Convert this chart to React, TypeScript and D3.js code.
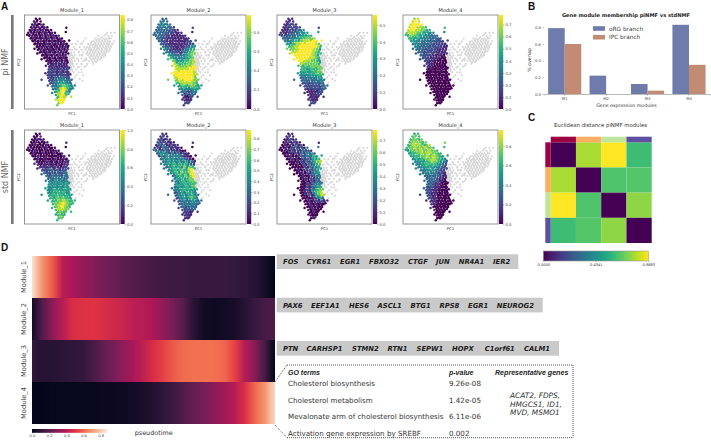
import * as d3 from 'd3';
import React, { useRef, useEffect } from 'react';

// PCA embedding, in percent of the panel frame. One row per PC2 level.
const branchPC2 = [4, 7, 10, 13, 16, 19, 22, 25, 28, 31, 34, 37, 40, 43, 46, 49, 52, 55, 58, 61, 64, 67, 70, 73, 76, 79, 82, 85, 88, 91, 94];
const branchPC1 = [
  [12, 16],
  [10, 13, 17],
  [8, 11, 14, 17, 20],
  [7, 10, 12.5, 15, 18, 21, 24],
  [5.5, 8.5, 11, 14, 17, 19.5, 22.5, 25, 28],
  [4, 7, 9.5, 12.5, 15, 18, 21, 23.5, 26.5, 29, 32],
  [5, 8, 11, 13.5, 16.5, 19, 22, 25, 27.5, 30.5, 33, 36],
  [6.5, 9, 12, 15, 17.5, 20.5, 23, 26, 29, 31.5, 34.5, 37, 39.5],
  [9, 11.5, 14, 17, 20, 22.5, 25.5, 28, 31, 33.5, 36, 39, 42],
  [10.5, 13, 16, 19, 21.5, 24.5, 27, 30, 32.5, 35.5, 38, 41, 44],
  [13, 15.5, 18, 21, 23.5, 26.5, 29, 32, 34.5, 37.5, 40, 43, 45.5],
  [14, 17, 20, 22.5, 25.5, 28, 31, 33.5, 36.5, 39, 42, 45],
  [16, 19, 21.5, 24.5, 27, 30, 32.5, 35.5, 38, 41, 43.5],
  [18.5, 21, 23.5, 26.5, 29, 32, 34.5, 37.5, 40, 43],
  [21, 24, 26.5, 29.5, 32, 35, 37.5, 40.5, 43],
  [23, 26, 28.5, 31.5, 34, 37, 39.5, 42.5, 45],
  [25, 28, 30.5, 33, 36, 38.5, 41.5, 44],
  [26, 28.5, 31.5, 34, 37, 39.5, 42.5, 45],
  [25.5, 28, 31, 33.5, 36.5, 39, 42, 44.5],
  [25, 27.5, 30, 33, 35.5, 38.5, 41, 44, 46],
  [24.5, 27, 29.5, 32.5, 35, 38, 40.5, 43.5, 46],
  [25, 28, 30.5, 33.5, 36, 39, 41.5, 44.5, 47],
  [26, 29, 31.5, 34, 37, 39.5, 42.5, 45, 47.5],
  [27, 30, 32.5, 35.5, 38, 41, 43.5, 46, 48.5],
  [29, 31.5, 34, 37, 39.5, 42.5, 45, 47.5, 50],
  [30, 33, 35.5, 38.5, 41, 44, 46.5, 49],
  [32, 34.5, 37, 40, 42.5, 45, 47.5],
  [33, 36, 38.5, 41.5, 44],
  [34.5, 37, 39.5, 42],
  [35.5, 38, 40.5],
  [36, 39],
];
// the cells lying between those rows, and the stragglers off the edge of the branch
const branchExtra = [
  [13.4, 5.6], [11.2, 8.8], [15.3, 9.6], [9.6, 11.4], [13.1, 11.1], [18.7, 12.2], [44, 13.5], [8.1, 14.6], [11.3, 15.2], [16.2, 14.8], [20.4, 14.4], [23.2, 15.6],
  [6.6, 17.3], [10.2, 18.1], [13.3, 17.6], [16.1, 18.3], [19.4, 17.4], [22.3, 18.2], [25.7, 17.8], [28.4, 19.2], [43.5, 18], [5.3, 21.2], [9.2, 20.4], [12.1, 21.3], [15.4, 20.6], [18.2, 21.1], [21.3, 20.3], [24.1, 21.4], [27.3, 20.8], [30.2, 21.6], [33.4, 22.3], [2.8, 21],
  [7.2, 24.1], [10.3, 23.6], [13.2, 24.2], [16.4, 23.4], [19.1, 24.3], [22.3, 23.5], [25.2, 24.1], [28.3, 23.8], [31.4, 24.3], [34.2, 24.6], [37.3, 25.4],
  [8.3, 27.2], [11.2, 26.4], [14.4, 27.3], [17.1, 26.6], [20.3, 27.2], [23.4, 26.3], [26.2, 27.1], [29.3, 26.7], [32.1, 27.3], [35.4, 26.4], [38.2, 27.2], [41.3, 28.2], [47, 27],
  [11.2, 30.2], [14.3, 29.4], [17.2, 30.3], [20.4, 29.6], [23.1, 30.1], [26.3, 30.3], [29.2, 29.4], [32.4, 30.2], [35.1, 29.9], [38.3, 29.6], [41.2, 30.3], [44.3, 30.7],
  [13.3, 33.2], [16.2, 32.4], [19.4, 33.1], [22.1, 32.6], [25.3, 33.3], [28.2, 32.9], [31.3, 32.4], [34.1, 33.2], [37.4, 33.1], [40.2, 32.6], [43.4, 33.3], [46.2, 32.8], [10.5, 36],
  [15.3, 36.2], [18.1, 35.6], [21.4, 36.1], [24.2, 36.3], [27.3, 35.4], [30.1, 36.2], [33.4, 35.9], [36.2, 35.6], [39.3, 36.3], [42.1, 35.8], [45.3, 36.2],
  [17.2, 39.1], [20.3, 38.4], [23.1, 39.2], [26.4, 38.9], [29.2, 38.6], [32.3, 39.3], [35.1, 38.8], [38.4, 38.4], [41.2, 39.1], [44.1, 38.8], [13.5, 41],
  [19.3, 42.2], [22.4, 41.6], [25.1, 42.1], [28.3, 42.3], [31.2, 41.4], [34.4, 42.2], [37.1, 41.8], [40.3, 41.5], [43.2, 42.1], [46, 41],
  [21.2, 45.1], [23.4, 44.4], [26.2, 45.2], [29.3, 44.6], [32.1, 45.3], [35.3, 44.7], [38.2, 45.2], [41.4, 44.5], [44.2, 45.1], [18, 47],
  [24.3, 48.1], [27.1, 47.4], [30.3, 48.3], [33.2, 47.6], [36.4, 48.2], [39.1, 47.7], [42.3, 48.3], [44.4, 47.6],
  [25.2, 51.1], [27.4, 50.4], [30.2, 51.2], [33.3, 50.6], [36.1, 51.3], [39.4, 50.5], [42.2, 51.1], [45.2, 50.4], [22.5, 54],
  [27.3, 54.1], [30.1, 53.4], [33.4, 54.2], [36.2, 53.6], [39.1, 54.1], [41.3, 53.4], [44.1, 54.2], [47, 56],
  [27.2, 57.1], [29.4, 56.4], [32.3, 57.2], [35.1, 56.6], [38.4, 57.3], [41.2, 56.5], [44.3, 57.1], [46.2, 56.9],
  [26.3, 60.1], [29.2, 59.4], [32.1, 60.2], [34.4, 59.6], [37.2, 60.1], [40.3, 59.5], [43.1, 60.3], [45.2, 59.8], [22, 62],
  [25.8, 63.1], [28.3, 62.4], [31.2, 63.2], [34.1, 62.6], [37.3, 63.1], [39.2, 62.4], [42.1, 63.3], [45.3, 62.6], [48, 63],
  [26.2, 66.1], [29.1, 65.4], [32.3, 66.2], [35.1, 65.6], [38.2, 66.1], [41.3, 65.5], [44.2, 66.2], [46.3, 65.8], [18, 69],
  [27.2, 69.1], [30.1, 68.4], [33.2, 69.2], [36.4, 68.6], [38.2, 69.1], [41.1, 68.5], [44.3, 69.3], [46.4, 68.7], [49.5, 69],
  [28.2, 72.1], [31.3, 71.4], [34.1, 72.3], [37.2, 71.6], [40.1, 72.1], [43.2, 71.5], [45.3, 72.2], [48.1, 71.7], [24.5, 75],
  [30.3, 75.1], [33.2, 74.4], [36.1, 75.2], [38.3, 74.6], [41.2, 75.1], [44.1, 74.5], [47.2, 75.2], [49.4, 74.7], [53, 75],
  [32.2, 78.1], [35.1, 77.4], [37.3, 78.2], [40.2, 77.6], [43.1, 78.1], [45.3, 77.5], [48.2, 78.2], [51, 78],
  [33.4, 81.1], [36.2, 80.4], [39.1, 81.2], [42.2, 80.6], [44.3, 81.1], [47.1, 80.6], [29, 83],
  [35.2, 84.1], [37.4, 83.4], [40.2, 84.2], [43.1, 83.6], [46.2, 84.1], [49, 87],
  [35.7, 87.1], [38.3, 86.5], [41.1, 87.2], [43.4, 86.6], [33, 90],
  [37.2, 90.1], [39.4, 89.6], [42.2, 90.2], [37.8, 93], [40.4, 92.6], [34.5, 96],
];

const grayPC2 = [19, 22, 25, 28, 31, 34, 37, 40, 43, 46, 49, 52, 55, 58, 61, 64, 68, 72];
const grayPC1 = [
  [87, 91, 95],
  [78, 84, 88, 92],
  [64, 74, 77, 80, 83, 86, 89, 91],
  [56, 62, 71, 73, 76, 79, 82, 85, 88, 90, 94],
  [50, 54, 59, 67, 70, 73, 75, 78, 81, 84, 87, 89, 92],
  [52, 58, 63, 66, 69, 72, 75, 77, 80, 83, 86, 88, 91],
  [48, 50, 55, 60, 64, 68, 70, 73, 76, 79, 82, 85, 87, 90],
  [47, 49, 52, 57, 62, 66, 69, 72, 75, 78, 81, 84, 86],
  [46, 48, 50, 53, 58, 61, 67, 70, 73, 76, 79, 82, 85],
  [44, 46, 48, 50, 52, 55, 60, 65, 69, 72, 75, 78, 81],
  [44, 46, 48, 50, 53, 57, 62, 68, 71, 74, 77],
  [45, 47, 49, 51, 55, 60, 66, 72],
  [45, 47, 49, 52, 58, 63],
  [46, 48, 50, 54, 60],
  [48, 52, 57],
  [49, 55, 62],
  [51, 58],
  [54],
];
const grayExtra = [
  [85.4, 20.6], [89.2, 23.7], [81.3, 23.4], [75.6, 26.6], [78.4, 26.3], [81.7, 26.8], [84.6, 26.2], [87.3, 26.7], [70.2, 29.4], [74.4, 29.7], [77.6, 29.3], [80.4, 29.8], [83.3, 29.2], [86.5, 29.6], [89.3, 29.8], [92.6, 30.4],
  [68.4, 32.6], [71.6, 32.2], [74.3, 32.7], [76.5, 32.3], [79.6, 32.6], [82.4, 32.2], [85.7, 32.8], [88.4, 32.3], [90.6, 33], [64.5, 35.7], [67.6, 35.3], [70.4, 35.8], [73.6, 35.2], [76.4, 35.7], [78.5, 35.3], [81.6, 35.8], [84.4, 35.4], [86.6, 35.7], [89.5, 35.3],
  [66.3, 38.6], [69.4, 38.3], [71.6, 38.7], [74.5, 38.2], [77.4, 38.6], [80.6, 38.3], [83.3, 38.8], [86.4, 38.4], [88.6, 38.9], [65.4, 41.6], [68.3, 41.3], [70.6, 41.7], [73.4, 41.2], [76.6, 41.6], [79.5, 41.3], [82.6, 41.7], [84.7, 41.4],
  [68.6, 44.6], [71.4, 44.2], [74.5, 44.7], [77.3, 44.4], [80.6, 44.8], [83.4, 44.3], [70.4, 47.5], [73.5, 47.2], [76.6, 47.6], [79.4, 47.4], [72.5, 50.6], [75.4, 50.3],
  [60.5, 30.2], [53.2, 36], [57.3, 39], [60.2, 42.4], [56.4, 47], [63.3, 47.5], [47.6, 44.5], [49.3, 41.5], [47.3, 47.7], [49.4, 47.3], [51.3, 44.6], [46.2, 50.6], [48.4, 50.3], [50.3, 50.7], [46.4, 53.6], [48.2, 53.4], [50.4, 53.7], [47.3, 56.6], [49.2, 56.3], [47.6, 59.6], [50.3, 59.7], [49.2, 62.5], [65, 54], [56, 56], [60, 61], [53, 66], [61, 70], [65, 48],
];

// per point level as a digit 0-9 of the panel's colour range, row by row (a short row string repeats)
const piModule1 = ['00', '000', '01', '01', '01', '01', '01', '01', '01', '01', '01', '01', '01', '01', '01', '01', '1', '1', '12', '12', '12', '222333322', '223344433', '233455543', '334567654', '34689864', '4689964', '58996', '6998', '899', '79'];
const piModule2 = ['33', '333', '34434', '3343332', '333332221', '33333222111', '333222111111', '3322211111111', '3221111111122', '3221111111222', '4322111112345', '432211123456', '43322223567', '5443334567', '654444567', '765556678', '87666778', '88777889', '98888899', '999999998', '899999998', '889999997', '788899987', '667888876', '556667765', '44444565', '3332344', '22223', '1102', '111', '22'];
const piModule3 = ['11', '111', '11221', '1112222', '111222344', '11122334455', '222333445566', '3334445667778', '4445667889999', '5566889999987', '6788999999986', '778899999875', '88999999876', '9999999875', '999998876', '998887765', '87777776', '66667777', '66556667', '555556677', '444455566', '333444455', '333333344', '222233333', '222222233', '11122223', '1111122', '11112', '1111', '111', '22'];
const piModule4 = ['78', '898', '89999', '8998876', '899887755', '78887665544', '677665544333', '6655544433322', '5544433332222', '4444333322221', '4333332222211', '333322221111', '33222221111', '3222211110', '222111100', '221110000', '21100000', '11000000', '10000000', '0', '0', '0', '0', '0', '0', '0', '0', '0', '0', '0', '0'];
const stdModule1 = ['00', '001', '00100', '0010001', '001000100', '01000101000', '001000100010', '0100010001001', '0010010000101', '0100100010010', '1001010101011', '101110101011', '11212121112', '2122323122', '322323233', '323333243', '34343434', '44354454', '45454545', '544545455', '545655455', '456565645', '565666565', '666767665', '567778766', '67889876', '6789876', '68987', '6876', '576', '67'];
const stdModule2 = ['11', '121', '12131', '2132111', '132411211', '23142312110', '342432121100', '3453424231210', '2435434432110', '3546453443210', '3454645345331', '454564656432', '35465647576', '4556576589', '456576689', '345657589', '45565677', '34565667', '45556566', '345456567', '344565655', '234546554', '344546564', '234545754', '233434543', '23343443', '2323433', '22323', '2121', '121', '11'];
const stdModule3 = ['01', '121', '01202', '0120211', '010213130', '00102131214', '001021314231', '0010021324352', '0010013243465', '0010102132556', '0001021324678', '000102132467', '00100213245', '0010213245', '001021345', '001012334', '00102133', '00102133', '00121344', '001213455', '001214567', '001214678', '000213568', '001012453', '001012131', '00101010', '0010100', '00100', '0010', '000', '01'];
const stdModule4 = ['56', '676', '67757', '6787767', '678787678', '67787878776', '567878778776', '5667787887765', '5566778788765', '4556677887654', '4455667776543', '445566665432', '44455554332', '4444544322', '344443221', '333333211', '33332110', '33322100', '33221100', '322211000', '322110000', '221110000', '221100000', '211100000', '111000000', '11000000', '1000000', '10000', '0000', '000', '00'];

const moduleNames = ['Module_1', 'Module_2', 'Module_3', 'Module_4'];
const piMax = [0.842, 0.487, 0.56, 0.78];
const stdMax = [1.0, 0.88, 0.79, 0.964];
const piTicks = [
  [0, 0.1, 0.2, 0.3, 0.4, 0.5, 0.6, 0.7, 0.8],
  [0, 0.1, 0.2, 0.3, 0.4],
  [0, 0.1, 0.2, 0.3, 0.4, 0.5],
  [0, 0.1, 0.2, 0.3, 0.4, 0.5, 0.6, 0.7],
];
const stdTicks = [
  [0, 0.2, 0.4, 0.6, 0.8, 1.0],
  [0, 0.1, 0.2, 0.3, 0.4, 0.5, 0.6, 0.7, 0.8],
  [0, 0.1, 0.2, 0.3, 0.4, 0.5, 0.6, 0.7],
  [0, 0.2, 0.4, 0.6, 0.8],
];

// B
const overlapModules = ['M1', 'M2', 'M3', 'M4'];
const orgOverlap = [0.79, 0.22, 0.12, 0.83];
const ipcOverlap = [0.6, 0, 0.04, 0.35];
const overlapTicks = [0, 0.2, 0.4, 0.6, 0.8];

// C
const distanceMatrix = [
  [0, 0.755, 0.8683, 0.6],
  [0.755, 0, 0.625, 0.635],
  [0.8683, 0.625, 0, 0.72],
  [0.6, 0.635, 0.72, 0],
];
const moduleColors = ['#9e0142', '#fdae61', '#bfe59b', '#5e4fa2'];
const distanceTicks = [0, 0.4341, 0.8683];

// D, mean activity in 25 pseudotime bins
const pseudoModule1 = [0.86, 0.69, 0.58, 0.41, 0.37, 0.33, 0.3, 0.26, 0.24, 0.21, 0.19, 0.18, 0.16, 0.15, 0.14, 0.14, 0.13, 0.13, 0.13, 0.13, 0.12, 0.11, 0.09, 0.05, 0];
const pseudoModule2 = [0.04, 0.19, 0.31, 0.4, 0.48, 0.49, 0.5, 0.48, 0.46, 0.44, 0.41, 0.4, 0.37, 0.32, 0.26, 0.19, 0.09, 0.04, 0.03, 0.04, 0.05, 0.09, 0.13, 0.16, 0.18];
const pseudoModule3 = [0.11, 0.09, 0.09, 0.1, 0.11, 0.12, 0.16, 0.22, 0.26, 0.32, 0.37, 0.42, 0.48, 0.53, 0.58, 0.61, 0.62, 0.62, 0.62, 0.6, 0.53, 0.4, 0.3, 0.16, 0];
const pseudoModule4 = [0, 0, 0.01, 0.01, 0.01, 0.01, 0.01, 0.02, 0.02, 0.03, 0.04, 0.06, 0.08, 0.11, 0.14, 0.19, 0.23, 0.26, 0.31, 0.35, 0.4, 0.48, 0.6, 0.69, 0.84];
const pseudoTicks = [0, 0.2, 0.4, 0.6, 0.8];
const rocketStops = ['#03051a', '#35193e', '#701f57', '#ad1759', '#e13342', '#f37651', '#f6b48f', '#faebdd'];

const genes1 = ['FOS', 'CYR61', 'EGR1', 'FBXO32', 'CTGF', 'JUN', 'NR4A1', 'IER2'];
const genes2 = ['PAX6', 'EEF1A1', 'HES6', 'ASCL1', 'BTG1', 'RPS8', 'EGR1', 'NEUROG2'];
const genes3 = ['PTN', 'CARHSP1', 'STMN2', 'RTN1', 'SEPW1', 'HOPX', 'C1orf61', 'CALM1'];
const goTerms = ['Cholesterol biosynthesis', 'Cholesterol metabolism', 'Mevalonate arm of cholesterol biosynthesis', 'Activation gene expression by SREBF'];
const goPvalues = ['9.26e-08', '1.42e-05', '6.11e-06', '0.002'];
const repGenes = ['ACAT2, FDPS,', 'HMGCS1, ID1,', 'MVD, MSMO1'];

const FONT = '"DejaVu Sans"';

const App = () => {
  const svgRef = useRef<SVGSVGElement>(null);

  useEffect(() => {
    draw();
  }, []);

  const draw = () => {
    const svg = d3.select(svgRef.current);
    svg.selectAll('*').remove();
    svg.style('font-family', FONT);
    const defs = svg.append('defs');

    const label = (x, y, text, size, opts: any = {}) => {
      const t = svg
        .append('text')
        .attr('x', x)
        .attr('y', y)
        .attr('font-size', size)
        .attr('fill', opts.fill || '#333')
        .attr('text-anchor', opts.anchor || 'middle')
        .text(text);
      if (opts.weight) t.attr('font-weight', opts.weight);
      if (opts.italic) t.attr('font-style', 'italic');
      if (opts.family) t.attr('font-family', opts.family);
      if (opts.rotate) t.attr('transform', `rotate(-90, ${x}, ${y})`);
      return t;
    };

    const gradient = (id, interp, count, vertical) => {
      const g = defs
        .append('linearGradient')
        .attr('id', id)
        .attr('x1', 0)
        .attr('x2', vertical ? 0 : 1)
        .attr('y1', vertical ? 1 : 0)
        .attr('y2', 0);
      d3.range(count).forEach((i) => {
        g.append('stop')
          .attr('offset', i / (count - 1))
          .attr('stop-color', interp(i / (count - 1)));
      });
    };
    gradient('viridisV', d3.interpolateViridis, 20, true);
    gradient('viridisH', d3.interpolateViridis, 20, false);

    // A: scatter panels
    const panelX = [24.5, 151, 277, 403];
    const panelW = 95;
    const panelH = 94;
    const rows = [
      { top: 15, values: [piModule1, piModule2, piModule3, piModule4], max: piMax, ticks: piTicks },
      { top: 130, values: [stdModule1, stdModule2, stdModule3, stdModule4], max: stdMax, ticks: stdTicks },
    ];

    // an in-between cell takes the level of the closest cell in the nearest row
    const levelAt = (levels, u, v) => {
      const r = d3.bisectCenter(branchPC2, v);
      const i = d3.leastIndex(branchPC1[r], (a, b) => Math.abs(a - u) - Math.abs(b - u));
      const s = levels[r];
      return +s[i % s.length] / 9;
    };

    rows.forEach((row) => {
      panelX.forEach((px, p) => {
        const x = d3.scaleLinear().domain([0, 100]).range([px, px + panelW]);
        const y = d3.scaleLinear().domain([0, 100]).range([row.top, row.top + panelH]);
        const dot = (u, v, r, fill) => {
          svg.append('circle').attr('cx', x(u)).attr('cy', y(v)).attr('r', r).attr('fill', fill);
        };

        grayPC1.forEach((us, r) => us.forEach((u) => dot(u, grayPC2[r], 1.05, '#d6d6d6')));
        grayExtra.forEach(([u, v]) => dot(u, v, 1.05, '#d6d6d6'));

        const levels = row.values[p];
        branchPC1.forEach((us, r) => {
          us.forEach((u, i) => {
            const s = levels[r];
            dot(u, branchPC2[r], 1.25, d3.interpolateViridis(+s[i % s.length] / 9));
          });
        });
        branchExtra.forEach(([u, v]) => dot(u, v, 1.25, d3.interpolateViridis(levelAt(levels, u, v))));

        svg
          .append('rect')
          .attr('x', px)
          .attr('y', row.top)
          .attr('width', panelW)
          .attr('height', panelH)
          .attr('fill', 'none')
          .attr('stroke', '#8a8a8a')
          .attr('stroke-width', 0.9);

        label(px + panelW / 2, row.top - 3, moduleNames[p], 5);
        label(px + panelW / 2, row.top + panelH + 6, 'PC1', 3.9);
        label(px - 4.5, row.top + panelH / 2, 'PC2', 3.9, { rotate: true });

        // colour bar
        const cbX = px + panelW + 1;
        svg
          .append('rect')
          .attr('x', cbX)
          .attr('y', row.top)
          .attr('width', 4.2)
          .attr('height', panelH)
          .attr('fill', 'url(#viridisV)');
        const cbScale = d3.scaleLinear().domain([0, row.max[p]]).range([row.top + panelH, row.top]);
        const axis = svg
          .append('g')
          .attr('transform', `translate(${cbX + 4.2}, 0)`)
          .call(d3.axisRight(cbScale).tickValues(row.ticks[p]).tickSize(1.2).tickPadding(1).tickFormat(d3.format('.1f')));
        axis.select('.domain').remove();
        axis.selectAll('line').attr('stroke', '#555').attr('stroke-width', 0.4);
        axis.selectAll('text').attr('font-size', 3.8).attr('fill', '#444').attr('font-family', FONT);
      });
    });

    // side labels
    [[15, 'pi NMF'], [130, 'std NMF']].forEach(([top, name]) => {
      svg.append('rect').attr('x', 11).attr('y', top).attr('width', 2.6).attr('height', panelH).attr('fill', '#777');
      label(7.5, (top as number) + panelH / 2, name, 8, { rotate: true, fill: '#666' });
    });

    label(1, 9.5, 'A', 10, { anchor: 'start', weight: 'bold', family: 'Liberation Sans', fill: '#111' });
    label(528, 9.5, 'B', 10, { anchor: 'start', weight: 'bold', family: 'Liberation Sans', fill: '#111' });
    label(528, 121, 'C', 10, { anchor: 'start', weight: 'bold', family: 'Liberation Sans', fill: '#111' });
    label(1, 251, 'D', 10, { anchor: 'start', weight: 'bold', family: 'Liberation Sans', fill: '#111' });

    // B: grouped bars
    const xBand = d3.scaleBand().domain(overlapModules).range([544, 709.7]).paddingInner(0.2).paddingOuter(0.1);
    const yBar = d3.scaleLinear().domain([0, 0.8]).range([94, 27.3]);
    const barW = xBand.bandwidth() / 2;
    const barColors = ['#6f7bab', '#c18c73'];
    [orgOverlap, ipcOverlap].forEach((series, s) => {
      svg
        .append('g')
        .selectAll('rect')
        .data(series)
        .enter()
        .append('rect')
        .attr('x', (d, i) => xBand(overlapModules[i]) + s * barW)
        .attr('y', (d) => yBar(d))
        .attr('width', barW)
        .attr('height', (d) => 94 - yBar(d))
        .attr('fill', barColors[s]);
    });
    const yAxisB = svg
      .append('g')
      .attr('transform', 'translate(544, 0)')
      .call(d3.axisLeft(yBar).tickValues(overlapTicks).tickSize(1.5).tickPadding(1.5).tickFormat(d3.format('.1f')));
    yAxisB.select('.domain').remove();
    yAxisB.selectAll('line').attr('stroke', '#555').attr('stroke-width', 0.4);
    yAxisB.selectAll('text').attr('font-size', 3.8).attr('fill', '#444').attr('font-family', FONT);
    const xAxisB = svg
      .append('g')
      .attr('transform', 'translate(0, 94)')
      .call(d3.axisBottom(xBand).tickSize(1.5).tickPadding(1.5));
    xAxisB.select('.domain').attr('stroke', '#a8a8a8').attr('stroke-width', 0.8);
    xAxisB.selectAll('line').attr('stroke', '#555').attr('stroke-width', 0.4);
    xAxisB.selectAll('text').attr('font-size', 3.8).attr('fill', '#444').attr('font-family', FONT);
    label(626, 16.5, 'Gene module membership piNMF vs stdNMF', 5.15, { weight: 'bold', fill: '#222' });
    label(530.5, 60, '% overlap', 4.7, { rotate: true });
    label(626.5, 107, 'Gene expression modules', 4.7);
    ['oRG branch', 'IPC branch'].forEach((name, i) => {
      const ly = 28.5 + i * 8.7;
      svg.append('rect').attr('x', 593).attr('y', ly - 2.3).attr('width', 12).attr('height', 4.6).attr('fill', barColors[i]);
      label(609, ly + 2, name, 5.8, { anchor: 'start', fill: '#444' });
    });

    // C: distance heatmap
    const cellX = d3.scaleBand().domain(d3.range(4).map(String)).range([550.7, 651.7]);
    const cellY = d3.scaleBand().domain(d3.range(4).map(String)).range([142.3, 243]);
    const distColor = d3.scaleSequential(d3.interpolateViridis).domain([0, 0.8683]);
    distanceMatrix.forEach((line, r) => {
      svg
        .append('g')
        .selectAll('rect')
        .data(line)
        .enter()
        .append('rect')
        .attr('x', (d, c) => cellX(String(c)))
        .attr('y', cellY(String(r)))
        .attr('width', cellX.bandwidth())
        .attr('height', cellY.bandwidth())
        .attr('fill', (d) => distColor(d));
    });
    moduleColors.forEach((c, i) => {
      svg.append('rect').attr('x', cellX(String(i))).attr('y', 136.7).attr('width', cellX.bandwidth()).attr('height', 5.6).attr('fill', c);
      svg.append('rect').attr('x', 545.3).attr('y', cellY(String(i))).attr('width', 5.4).attr('height', cellY.bandwidth()).attr('fill', c);
    });
    label(600.5, 127, 'Euclidean distance piNMF modules', 5.35);

    svg.append('rect').attr('x', 543.3).attr('y', 251).attr('width', 105).attr('height', 10).attr('fill', 'url(#viridisH)').attr('stroke', '#999').attr('stroke-width', 0.6);
    const distScale = d3.scaleLinear().domain([0, 0.8683]).range([543.3, 648.3]);
    const distAxis = svg
      .append('g')
      .attr('transform', 'translate(0, 261)')
      .call(d3.axisBottom(distScale).tickValues(distanceTicks).tickSize(1).tickPadding(1).tickFormat(d3.format('.4f')));
    distAxis.select('.domain').remove();
    distAxis.selectAll('line').attr('stroke', '#555').attr('stroke-width', 0.4);
    distAxis.selectAll('text').attr('font-size', 3.6).attr('fill', '#333').attr('font-family', FONT);

    // D: pseudotime heatmap
    const rocket = d3
      .scaleLinear<string>()
      .domain(rocketStops.map((_, i) => (i / (rocketStops.length - 1)) * 0.88))
      .range(rocketStops);
    const heatX = d3.scaleLinear().domain([0, 24]).range([0, 1]);
    const heatY = d3.scaleBand().domain(moduleNames).range([254, 425]).round(true);
    [pseudoModule1, pseudoModule2, pseudoModule3, pseudoModule4].forEach((series, m) => {
      const g = defs.append('linearGradient').attr('id', `pseudo${m}`);
      series.forEach((v, i) => {
        g.append('stop').attr('offset', heatX(i)).attr('stop-color', rocket(v));
      });
      svg
        .append('rect')
        .attr('x', 32)
        .attr('y', heatY(moduleNames[m]))
        .attr('width', 243)
        .attr('height', heatY.bandwidth())
        .attr('fill', `url(#pseudo${m})`);
      label(26, heatY(moduleNames[m]) + heatY.bandwidth() / 2, moduleNames[m], 6.7, { rotate: true, fill: '#444' });
    });
    gradient('rocketH', (t) => rocket(t * 0.88), 24, false);
    svg.append('rect').attr('x', 32).attr('y', 429).attr('width', 75.5).attr('height', 3.8).attr('fill', 'url(#rocketH)');
    const pseudoScale = d3.scaleLinear().domain([0, 0.88]).range([32, 107.5]);
    const pseudoAxis = svg
      .append('g')
      .attr('transform', 'translate(0, 432.8)')
      .call(d3.axisBottom(pseudoScale).tickValues(pseudoTicks).tickSize(0.8).tickPadding(0.8).tickFormat(d3.format('.1f')));
    pseudoAxis.select('.domain').remove();
    pseudoAxis.selectAll('line').attr('stroke', '#555').attr('stroke-width', 0.4);
    pseudoAxis.selectAll('text').attr('font-size', 3.7).attr('fill', '#333').attr('font-family', FONT);
    label(153.7, 434.5, 'pseudotime', 6.4, { fill: '#333' });

    // gene strips
    const strips = [
      { genes: genes1, top: 254.3, right: 518.3, xs: [283, 306.6, 340, 369, 408, 436, 458.7, 493] },
      { genes: genes2, top: 297.7, right: 542.7, xs: [283, 311, 349, 377.5, 410.5, 439.5, 468, 496.7] },
      { genes: genes3, top: 341, right: 559, xs: [283, 306.6, 352, 387.5, 416.5, 452, 484.7, 524] },
    ];
    strips.forEach((st) => {
      svg.append('rect').attr('x', 276.7).attr('y', st.top).attr('width', st.right - 276.7).attr('height', 14.7).attr('fill', '#c9c9c9');
      st.genes.forEach((g, i) => {
        label(st.xs[i], st.top + 9.8, g, 6.8, { anchor: 'start', weight: 'bold', italic: true, fill: '#1c1c1c' });
      });
    });

    // GO table
    const dotted = (x1, y1, x2, y2) => {
      svg
        .append('line')
        .attr('x1', x1)
        .attr('y1', y1)
        .attr('x2', x2)
        .attr('y2', y2)
        .attr('stroke', '#444')
        .attr('stroke-width', 0.9)
        .attr('stroke-dasharray', '1 1');
    };
    dotted(287, 365, 573, 365);
    dotted(287, 437.7, 573, 437.7);
    dotted(573, 365, 573, 437.7);
    dotted(275, 382, 287, 365);
    dotted(275, 425, 287, 437.7);

    const head = { anchor: 'start', weight: 'bold', italic: true, fill: '#222', family: 'Liberation Sans' };
    label(288, 374.5, 'GO terms', 7, head);
    label(449, 374.5, 'p-value', 7, head);
    label(495, 374.5, 'Representative genes', 7.1, head);
    const rowBase = [386, 402.7, 419, 436];
    goTerms.forEach((term, i) => {
      label(288, rowBase[i], term, 7.15, { anchor: 'start' });
      label(449, rowBase[i], goPvalues[i], 7.15, { anchor: 'start' });
    });
    repGenes.forEach((g, i) => {
      label(510, 398.3 + i * 8.35, g, 7.4, { anchor: 'start', italic: true });
    });
  };

  return (
    <div style={{ position: 'absolute', left: 0, top: 0, opacity: 0.999 }}>
      <svg ref={svgRef} width={711} height={440} style={{ display: 'block' }}></svg>
    </div>
  );
};

export default App;
